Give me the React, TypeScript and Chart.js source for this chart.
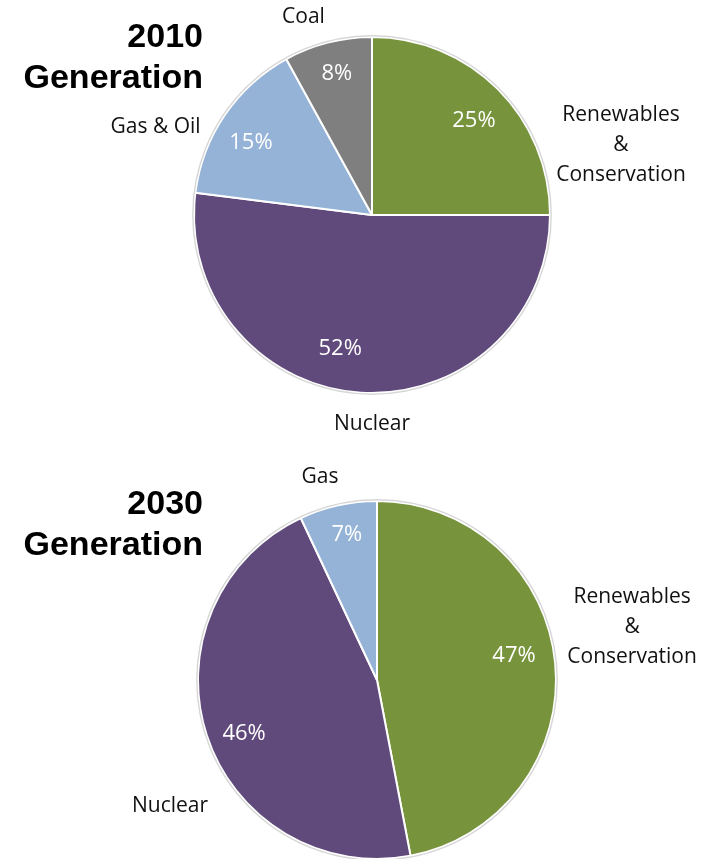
import React, { useEffect, useRef } from "react";
import { Chart, registerables } from "chart.js";

Chart.register(...registerables);

// ---- data ----
const categories2010 = ["Renewables & Conservation", "Nuclear", "Gas & Oil", "Coal"];
const values2010 = [25, 52, 15, 8];
const labelLines2010 = [["Renewables", "&", "Conservation"], ["Nuclear"], ["Gas & Oil"], ["Coal"]];

const categories2030 = ["Renewables & Conservation", "Nuclear", "Gas"];
const values2030 = [47, 46, 7];
const labelLines2030 = [["Renewables", "&", "Conservation"], ["Nuclear"], ["Gas"]];

const colors2010 = ["#77933C", "#604A7B", "#95B3D7", "#7F7F7F"];
const colors2030 = ["#77933C", "#604A7B", "#95B3D7"];

const FONT = '"Open Sans", "Noto Sans", sans-serif';

// ---- label plugin (positions relative to the arc geometry) ----
const pieLabels = {
  id: "pieLabels",
  afterDatasetsDraw(chart: any, _args: any, opts: any) {
    const ctx = chart.ctx as CanvasRenderingContext2D;
    const meta = chart.getDatasetMeta(0);
    const data = chart.data.datasets[0].data as number[];
    const total = data.reduce((a, b) => a + b, 0);
    ctx.save();
    const first = meta.data[0].getProps(["x", "y", "outerRadius"], true);
    ctx.beginPath();
    ctx.arc(first.x, first.y, first.outerRadius + 1.2, 0, Math.PI * 2);
    ctx.strokeStyle = "rgba(0,0,0,0.16)";
    ctx.lineWidth = 1.4;
    ctx.stroke();

    meta.data.forEach((arc: any, i: number) => {
      const p = arc.getProps(["x", "y", "startAngle", "endAngle", "outerRadius"], true);
      const ang = p.startAngle + opts.innerFrac[i] * (p.endAngle - p.startAngle);
      const rr = p.outerRadius * opts.innerRadius[i];
      const pctSize = opts.pctSize;
      ctx.font = `${pctSize}px ${FONT}`;
      ctx.fillStyle = "#ffffff";
      ctx.textAlign = "center";
      ctx.textBaseline = "alphabetic";
      ctx.fillText(
        Math.round((data[i] / total) * 100) + "%",
        p.x + Math.cos(ang) * rr,
        p.y + Math.sin(ang) * rr + pctSize * 0.357
      );

      const lines: string[] = opts.lines[i];
      const off = opts.outer[i];
      const catSize = opts.catSize;
      ctx.font = `${catSize}px ${FONT}`;
      ctx.fillStyle = "#111111";
      const cx = p.x + off[0] * p.outerRadius;
      const cy = p.y + off[1] * p.outerRadius;
      const lh = opts.lineHeight;
      lines.forEach((t, k) => {
        const ly = cy + (k - (lines.length - 1) / 2) * lh;
        ctx.fillText(t, cx, ly + catSize * 0.357);
      });
    });
    ctx.restore();
  },
};

function PieCanvas(props: {
  labels: string[];
  values: number[];
  colors: string[];
  padding: { left: number; right: number; top: number; bottom: number };
  labelOpts: any;
  width: number;
  height: number;
}) {
  const ref = useRef<HTMLCanvasElement>(null);
  useEffect(() => {
    if (!ref.current) return;
    const chart = new Chart(ref.current, {
      type: "pie",
      data: {
        labels: props.labels,
        datasets: [
          {
            data: props.values,
            backgroundColor: props.colors,
            borderColor: "#ffffff",
            borderWidth: 2,
          },
        ],
      },
      options: {
        animation: false,
        responsive: false,
        maintainAspectRatio: false,
        layout: { padding: props.padding },
        plugins: {
          legend: { display: false },
          tooltip: { enabled: false },
          title: { display: false },
          pieLabels: props.labelOpts,
        } as any,
      },
      plugins: [pieLabels],
    });
    return () => chart.destroy();
  }, []);
  return <canvas ref={ref} width={props.width} height={props.height} style={{ display: "block", width: props.width, height: props.height }} />;
}

const titleStyle: React.CSSProperties = {
  position: "absolute",
  left: 0,
  width: 203,
  textAlign: "right",
  fontFamily: '"Liberation Sans", Arial, sans-serif',
  fontWeight: "bold",
  fontSize: 34,
  lineHeight: "41px",
  color: "#000",
};

export default function App() {
  return (
    <div style={{ position: "absolute", left: 0, top: 0, width: 707, height: 859, overflow: "hidden", background: "#fff" }}>
      <div style={{ position: "absolute", left: 0, top: 0 }}>
        <PieCanvas
          labels={categories2010}
          values={values2010}
          colors={colors2010}
          width={707}
          height={430}
          padding={{ left: 193, right: 156, top: 36, bottom: 36 }}
          labelOpts={{
            lines: labelLines2010,
            innerFrac: [0.519, 0.553, 0.448, 0.52],
            innerRadius: [0.787, 0.764, 0.797, 0.826],
            outer: [
              [1.399, -0.404],
              [0.0, 1.163],
              [-1.216, -0.503],
              [-0.385, -1.121],
            ],
            pctSize: 22,
            catSize: 21,
            lineHeight: 30,
          }}
        />
      </div>
      <div style={{ position: "absolute", left: 0, top: 430 }}>
        <PieCanvas
          labels={categories2030}
          values={values2030}
          colors={colors2030}
          width={707}
          height={430}
          padding={{ left: 197, right: 150, top: 70, bottom: 0 }}
          labelOpts={{
            lines: labelLines2030,
            innerFrac: [0.469, 0.479, 0.54],
            innerRadius: [0.779, 0.798, 0.838],
            outer: [
              [1.425, -0.302],
              [-1.156, 0.698],
              [-0.318, -1.14],
            ],
            pctSize: 22,
            catSize: 21,
            lineHeight: 30,
          }}
        />
      </div>
      <div style={{ ...titleStyle, top: 15 }}>
        2010
        <br />
        Generation
      </div>
      <div style={{ ...titleStyle, top: 482 }}>
        2030
        <br />
        Generation
      </div>
    </div>
  );
}
